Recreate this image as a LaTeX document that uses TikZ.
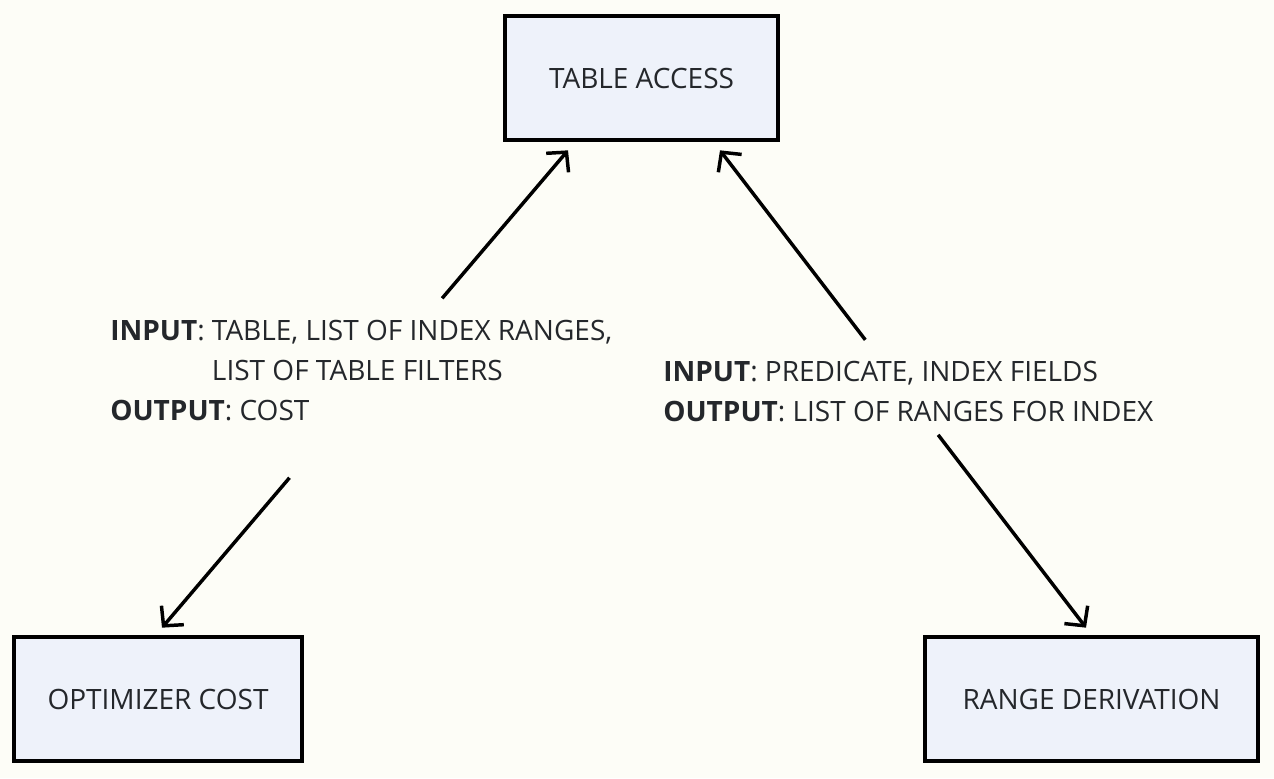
\documentclass[tikz,border=0pt]{standalone}
\usepackage{fontspec}
\setmainfont{Open Sans}
\usetikzlibrary{arrows.meta,calc}
\definecolor{bgcol}{HTML}{FDFDF7}
\definecolor{boxfill}{HTML}{EEF2FA}
\definecolor{txtcol}{HTML}{24272B}
\begin{document}
\begin{tikzpicture}[x=0.75pt,y=-0.75pt,
  box/.style={draw=black, line width=3pt, fill=boxfill, text=txtcol,
    minimum height=93.5pt, inner sep=0pt, font=\fontsize{21}{30}\selectfont},
  lbl/.style={text=txtcol, align=left, inner sep=0pt, anchor=north west,
    font=\fontsize{21}{30}\selectfont},
  conn/.style={line width=2.6pt, -{Straight Barb[length=10.5pt,width=22pt]}}]
\fill[bgcol] (0,0) rectangle (1274,778);
\useasboundingbox (0,0) rectangle (1274,778);

\node[box, minimum width=204.5pt] (ta) at (641.5,78) {TABLE ACCESS};
\node[box, minimum width=216.5pt] (opt) at (158,699) {OPTIMIZER COST};
\node[box, minimum width=250pt] (rd) at (1091.5,699) {RANGE DERIVATION};

\coordinate (oa) at ($(opt.north)+(4,-7)$);
\coordinate (ta1) at ($(ta.south)+(-73.5,8)$);
\coordinate (ta2) at ($(ta.south)+(78.5,8)$);
\coordinate (ra) at ($(rd.north)+(-5.5,-7)$);

\draw[conn] ($(oa)!0.690!(ta1)$) -- (ta1);
\draw[conn] ($(oa)!0.314!(ta1)$) -- (oa);
\draw[conn] ($(ta2)!0.397!(ra)$) -- (ta2);
\draw[conn] ($(ta2)!0.596!(ra)$) -- (ra);

\node[lbl] (l1) at (110,320) {\textbf{INPUT}: TABLE, LIST OF INDEX RANGES,\\
  \hphantom{\textbf{INPUT}: }LIST OF TABLE FILTERS\\
  \textbf{OUTPUT}: COST};
\node[lbl] (l2) at (663,361) {\textbf{INPUT}: PREDICATE, INDEX FIELDS\\
  \textbf{OUTPUT}: LIST OF RANGES FOR INDEX};
\end{tikzpicture}
\end{document}
